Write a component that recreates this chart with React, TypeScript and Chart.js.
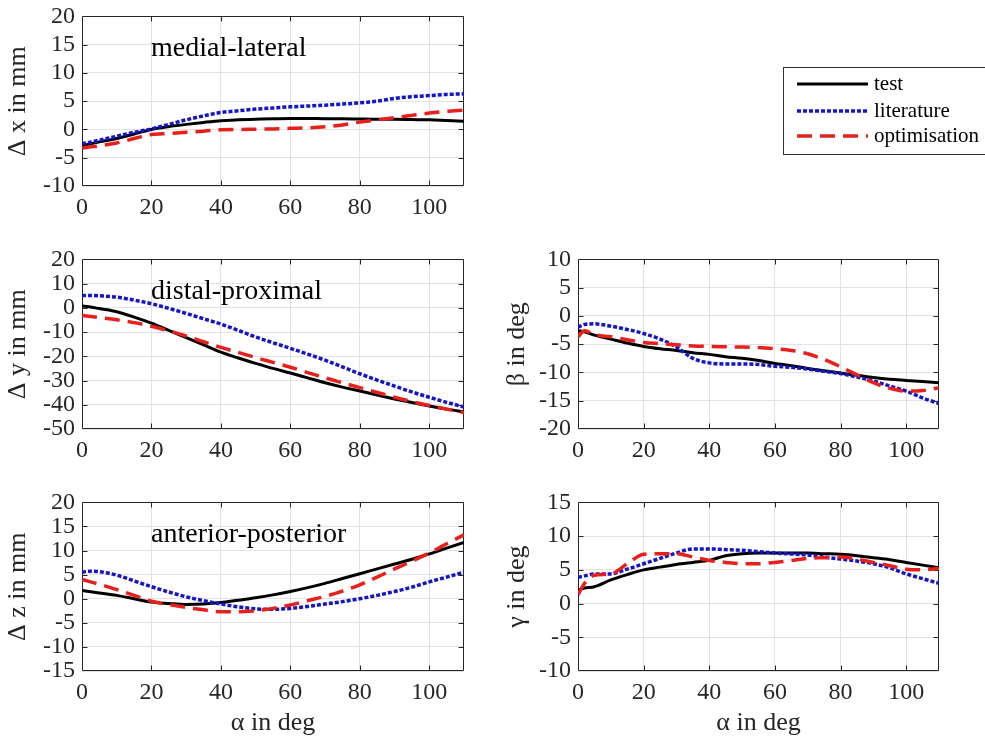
import React, { useEffect, useRef } from 'react';
import { Chart, registerables } from 'chart.js';

Chart.register(...registerables);

// ---------------- data ----------------
const alpha = [0, 2, 5, 10, 15, 20, 25, 30, 35, 40, 45, 50, 55, 60, 65, 70, 75, 80, 85, 90, 95, 100, 105, 110];

const dxTest = [-2.8, -2.6, -2.2, -1.6, -0.8, 0, 0.5, 0.9, 1.25, 1.55, 1.7, 1.8, 1.9, 1.95, 1.95, 1.9, 1.9, 1.85, 1.8, 1.8, 1.75, 1.7, 1.6, 1.45];
const dxLiterature = [-2.5, -2.3, -1.9, -1.2, -0.5, 0.1, 0.9, 1.7, 2.4, 3.0, 3.3, 3.6, 3.8, 4.0, 4.15, 4.3, 4.5, 4.7, 5.0, 5.5, 5.8, 6.0, 6.2, 6.3];
const dxOptimisation = [-3.3, -3.1, -2.9, -2.4, -1.6, -0.9, -0.7, -0.5, -0.3, -0.05, 0, 0.05, 0.1, 0.2, 0.3, 0.5, 0.8, 1.3, 1.7, 2.1, 2.5, 2.9, 3.2, 3.4];

const dyTest = [0.8, 0.5, -0.3, -1.6, -3.8, -6.3, -9.3, -12.3, -15.3, -18.3, -20.7, -22.9, -25, -26.9, -28.9, -30.9, -32.7, -34.3, -36, -37.6, -39.1, -40.5, -41.8, -42.9];
const dyLiterature = [5.1, 5.1, 5.0, 4.4, 3.2, 1.7, -0.2, -2.3, -4.5, -6.7, -9.3, -12, -14.4, -16.7, -19.1, -21.6, -24.4, -27.2, -29.8, -32.3, -34.7, -36.9, -39, -40.9];
const dyOptimisation = [-3.2, -3.5, -4.0, -4.9, -6.1, -7.6, -9.5, -11.6, -14.0, -16.3, -18.4, -20.5, -22.5, -24.5, -26.7, -28.9, -30.9, -32.9, -34.9, -36.9, -38.7, -40.3, -41.8, -43.2];

const dzTest = [1.7, 1.5, 1.2, 0.7, 0, -0.7, -1.0, -1.2, -1.1, -0.8, -0.3, 0.2, 0.8, 1.5, 2.3, 3.2, 4.2, 5.2, 6.2, 7.2, 8.2, 9.3, 10.5, 11.7];
const dzLiterature = [5.5, 5.7, 5.6, 4.9, 3.7, 2.5, 1.4, 0.4, -0.4, -1.1, -1.7, -2.1, -2.2, -2.0, -1.6, -1.1, -0.6, 0, 0.7, 1.5, 2.4, 3.5, 4.5, 5.5];
const dzOptimisation = [4.0, 3.6, 3.0, 1.9, 0.7, -0.5, -1.2, -1.8, -2.3, -2.7, -2.7, -2.5, -2.0, -1.3, -0.4, 0.5, 1.6, 2.9, 4.5, 6.2, 7.8, 9.5, 11.4, 13.3];

const betaTest = [-2.6, -2.8, -3.4, -4.1, -4.8, -5.4, -5.8, -6.1, -6.5, -6.8, -7.2, -7.5, -7.9, -8.4, -8.8, -9.3, -9.7, -10.1, -10.5, -10.9, -11.2, -11.4, -11.6, -11.8];
const betaLiterature = [-2.0, -1.5, -1.4, -1.8, -2.4, -3.1, -4.1, -5.5, -7.5, -8.3, -8.5, -8.5, -8.6, -8.9, -9.1, -9.4, -9.8, -10.2, -10.8, -11.5, -12.4, -13.3, -14.5, -15.5];
const betaOptimisation = [-3.7, -2.6, -3.3, -3.7, -4.2, -4.7, -4.9, -5.1, -5.3, -5.4, -5.45, -5.5, -5.6, -5.8, -6.1, -6.7, -7.7, -9.0, -10.4, -11.8, -12.8, -13.3, -13.2, -12.7];

const gammaTest = [2.0, 2.3, 2.5, 3.5, 4.3, 5.0, 5.4, 5.8, 6.1, 6.4, 7.1, 7.4, 7.5, 7.5, 7.5, 7.5, 7.4, 7.3, 7.1, 6.8, 6.5, 6.1, 5.7, 5.3];
const gammaLiterature = [3.9, 4.1, 4.4, 4.4, 5.1, 5.9, 6.7, 7.5, 8.1, 8.1, 8.0, 7.9, 7.7, 7.5, 7.35, 7.2, 6.9, 6.6, 6.3, 5.9, 5.3, 4.4, 3.7, 3.0];
const gammaOptimisation = [1.3, 3.0, 4.2, 4.4, 5.9, 7.3, 7.4, 7.4, 6.9, 6.4, 6.1, 5.9, 5.9, 6.1, 6.4, 6.7, 6.8, 6.9, 6.6, 6.1, 5.6, 5.1, 5.0, 5.2];

const seriesNames = ['test', 'literature', 'optimisation'];
const xAxisTitle = 'α in deg';

// ---------------- styles ----------------
const FONT = "'Liberation Serif', 'Times New Roman', Times, serif";
const AXIS_COLOR = '#262626';
const GRID_COLOR = '#e2e2e2';
const SERIES_STYLES = [
  { borderColor: '#000000', borderWidth: 3, borderDash: [] as number[] },
  { borderColor: '#1414c8', borderWidth: 3.5, borderDash: [4, 2] },
  { borderColor: '#e8201c', borderWidth: 3.5, borderDash: [15, 8] },
];

type Panel = {
  id: string;
  left: number; top: number; width: number; height: number;
  padTop: number; padRight: number; yAxisW: number; xAxisH: number;
  yMin: number; yMax: number; yStep: number;
  yTitle: string; yTitlePad: number;
  xTitle: boolean;
  note?: string;
  legend?: boolean;
  series: number[][];
};

const panels: Panel[] = [
  { id: 'dx', left: 0, top: -5, width: 985, height: 235, padTop: 16, padRight: 521, yAxisW: 82, xAxisH: 44,
    yMin: -10, yMax: 20, yStep: 5, yTitle: 'Δ x in mm', yTitlePad: 2.4, xTitle: false,
    note: 'medial-lateral', legend: true, series: [dxTest, dxLiterature, dxOptimisation] },
  { id: 'dy', left: 0, top: 238, width: 470, height: 235, padTop: 16, padRight: 6, yAxisW: 82, xAxisH: 44,
    yMin: -50, yMax: 20, yStep: 10, yTitle: 'Δ y in mm', yTitlePad: 2.4, xTitle: false,
    note: 'distal-proximal', series: [dyTest, dyLiterature, dyOptimisation] },
  { id: 'dz', left: 0, top: 481, width: 470, height: 263, padTop: 16, padRight: 6, yAxisW: 82, xAxisH: 73,
    yMin: -15, yMax: 20, yStep: 5, yTitle: 'Δ z in mm', yTitlePad: 2.4, xTitle: true,
    note: 'anterior-posterior', series: [dzTest, dzLiterature, dzOptimisation] },
  { id: 'beta', left: 498, top: 238, width: 487, height: 235, padTop: 16, padRight: 46, yAxisW: 80, xAxisH: 44,
    yMin: -20, yMax: 10, yStep: 5, yTitle: 'β in deg', yTitlePad: 3.4, xTitle: false,
    series: [betaTest, betaLiterature, betaOptimisation] },
  { id: 'gamma', left: 498, top: 481, width: 487, height: 263, padTop: 16, padRight: 46, yAxisW: 80, xAxisH: 73,
    yMin: -10, yMax: 15, yStep: 5, yTitle: 'γ in deg', yTitlePad: 3.4, xTitle: true,
    series: [gammaTest, gammaLiterature, gammaOptimisation] },
];

// legend geometry (page coordinates)
const LEGEND_BOX = { x: 783, y: 67, w: 202, h: 87 };
const LEGEND_ROWS = [84, 111, 136];
const LEGEND_LINE = { x0: 797, x1: 868, textX: 874 };

function makeFramePlugin(panel: Panel) {
  return {
    id: 'frame_' + panel.id,
    beforeDatasetsDraw(chart: any) {
      const { ctx, chartArea } = chart;
      const l = Math.round(chartArea.left) + 0.5;
      const r = Math.round(chartArea.right) - 0.5;
      const t = Math.round(chartArea.top) + 0.5;
      const b = Math.round(chartArea.bottom) - 0.5;
      ctx.save();
      ctx.strokeStyle = AXIS_COLOR;
      ctx.lineWidth = 1;
      ctx.setLineDash([]);
      ctx.beginPath();
      ctx.rect(l, t, r - l, b - t);
      const xs = chart.scales.x;
      const ys = chart.scales.y;
      const T = 5;
      xs.ticks.forEach((tk: any) => {
        const p = Math.round(xs.getPixelForValue(tk.value)) + 0.5;
        if (p <= l + 1 || p >= r - 1) return;
        ctx.moveTo(p, b); ctx.lineTo(p, b - T);
        ctx.moveTo(p, t); ctx.lineTo(p, t + T);
      });
      ys.ticks.forEach((tk: any) => {
        const p = Math.round(ys.getPixelForValue(tk.value)) + 0.5;
        if (p <= t + 1 || p >= b - 1) return;
        ctx.moveTo(l, p); ctx.lineTo(l + T, p);
        ctx.moveTo(r, p); ctx.lineTo(r - T, p);
      });
      ctx.stroke();
      ctx.restore();
    },
    afterDraw(chart: any) {
      const { ctx, chartArea } = chart;
      ctx.save();
      if (panel.note) {
        ctx.fillStyle = '#000000';
        ctx.font = `28px ${FONT}`;
        ctx.textBaseline = 'alphabetic';
        ctx.textAlign = 'left';
        ctx.fillText(panel.note, chartArea.left + 69, chartArea.top + 40);
      }
      if (panel.legend) {
        const ox = -panel.left;
        const oy = -panel.top;
        ctx.strokeStyle = '#333333';
        ctx.lineWidth = 1;
        ctx.setLineDash([]);
        ctx.fillStyle = '#ffffff';
        ctx.fillRect(LEGEND_BOX.x + ox, LEGEND_BOX.y + oy, LEGEND_BOX.w, LEGEND_BOX.h);
        ctx.strokeRect(LEGEND_BOX.x + ox + 0.5, LEGEND_BOX.y + oy + 0.5, LEGEND_BOX.w, LEGEND_BOX.h);
        seriesNames.forEach((name, i) => {
          const st = SERIES_STYLES[i];
          const y = LEGEND_ROWS[i] + oy;
          ctx.strokeStyle = st.borderColor;
          ctx.lineWidth = st.borderWidth;
          ctx.setLineDash(st.borderDash);
          ctx.beginPath();
          ctx.moveTo(LEGEND_LINE.x0 + ox, y);
          ctx.lineTo(LEGEND_LINE.x1 + ox, y);
          ctx.stroke();
          ctx.setLineDash([]);
          ctx.fillStyle = '#000000';
          ctx.font = `21px ${FONT}`;
          ctx.textBaseline = 'middle';
          ctx.textAlign = 'left';
          ctx.fillText(name, LEGEND_LINE.textX + ox, y);
        });
      }
      ctx.restore();
    },
  };
}

function buildConfig(panel: Panel): any {
  const datasets = panel.series.map((vals, i) => ({
    label: seriesNames[i],
    data: alpha.map((a, k) => ({ x: a, y: vals[k] })),
    borderColor: SERIES_STYLES[i].borderColor,
    borderWidth: SERIES_STYLES[i].borderWidth,
    borderDash: SERIES_STYLES[i].borderDash,
    borderCapStyle: 'butt',
    pointRadius: 0,
    fill: false,
    cubicInterpolationMode: 'monotone',
    order: 3 - i,
  }));
  return {
    type: 'line',
    data: { datasets },
    options: {
      animation: false,
      responsive: false,
      maintainAspectRatio: false,
      devicePixelRatio: 1,
      layout: { padding: { top: panel.padTop, right: panel.padRight, left: 0, bottom: 0 } },
      plugins: { legend: { display: false }, tooltip: { enabled: false } },
      events: [],
      scales: {
        x: {
          type: 'linear',
          min: 0,
          max: 110,
          ticks: {
            stepSize: 20,
            includeBounds: false,
            autoSkip: false,
            maxRotation: 0,
            padding: 7,
            color: AXIS_COLOR,
            font: { family: FONT, size: 24 },
          },
          grid: { color: GRID_COLOR, drawTicks: false, lineWidth: 1 },
          border: { display: false },
          title: {
            display: panel.xTitle,
            text: xAxisTitle,
            color: AXIS_COLOR,
            font: { family: FONT, size: 26 },
            padding: { top: 0, bottom: 5.4 },
          },
          afterFit: (s: any) => { s.height = panel.xAxisH; },
        },
        y: {
          type: 'linear',
          min: panel.yMin,
          max: panel.yMax,
          ticks: {
            stepSize: panel.yStep,
            autoSkip: false,
            padding: 7,
            color: AXIS_COLOR,
            font: { family: FONT, size: 24 },
          },
          grid: { color: GRID_COLOR, drawTicks: false, lineWidth: 1 },
          border: { display: false },
          title: {
            display: true,
            text: panel.yTitle,
            color: AXIS_COLOR,
            font: { family: FONT, size: 26 },
            padding: { top: panel.yTitlePad, bottom: 0 },
          },
          afterFit: (s: any) => { s.width = panel.yAxisW; },
        },
      },
    },
    plugins: [makeFramePlugin(panel)],
  };
}

export default function App() {
  const refs = useRef<(HTMLCanvasElement | null)[]>([]);

  useEffect(() => {
    const charts: Chart[] = [];
    panels.forEach((panel, i) => {
      const cv = refs.current[i];
      if (!cv) return;
      charts.push(new Chart(cv, buildConfig(panel)));
    });
    return () => charts.forEach((c) => c.destroy());
  }, []);

  return (
    <div style={{ position: 'absolute', left: 0, top: 0, width: 985, height: 744, overflow: 'hidden', background: '#ffffff' }}>
      {panels.map((panel, i) => (
        <canvas
          key={panel.id}
          ref={(el) => { refs.current[i] = el; }}
          width={panel.width}
          height={panel.height}
          style={{ position: 'absolute', left: panel.left, top: panel.top, width: panel.width, height: panel.height }}
        />
      ))}
    </div>
  );
}
